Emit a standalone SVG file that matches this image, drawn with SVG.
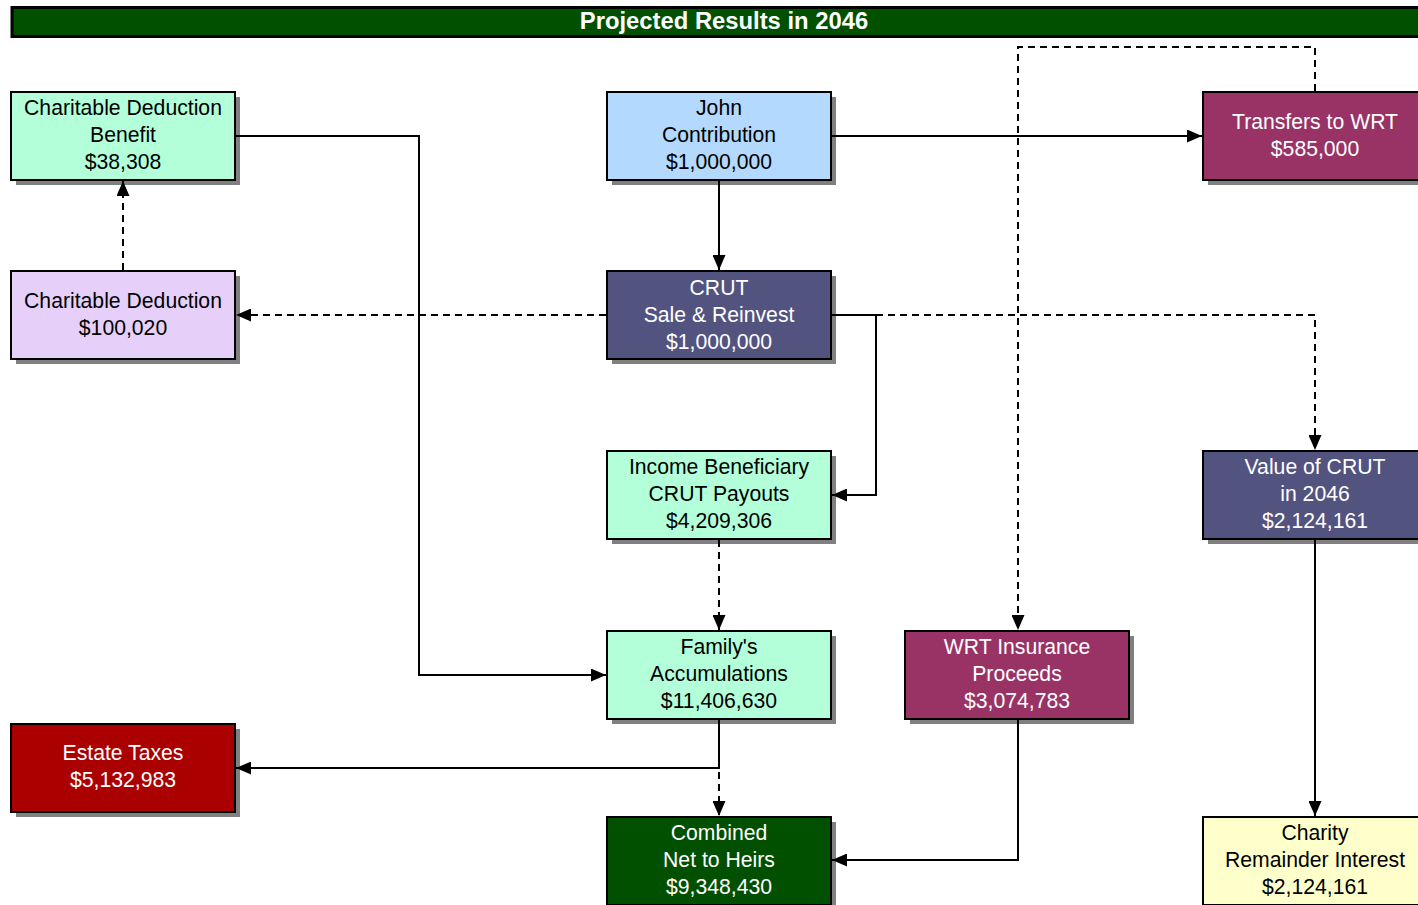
<svg xmlns="http://www.w3.org/2000/svg" width="1418" height="905" viewBox="0 0 1418 905">
<style>
.sh{fill:#808080}
.bx{stroke:#000;stroke-width:2}
.t{font-family:"Liberation Sans",Arial,sans-serif;font-size:21.2px;text-anchor:middle}
.d{fill:#000}
.w{fill:#fff}
.c{fill:none;stroke:#000;stroke-width:2}
.ds{stroke-dasharray:7,5}
</style>
<defs>
<marker id="ah" viewBox="0 0 15 13" refX="15" refY="6.5" markerWidth="15" markerHeight="13" markerUnits="userSpaceOnUse" orient="auto">
<path d="M0,0 L15,6.5 L0,13 z" fill="#000"/>
</marker>
</defs>
<rect x="0" y="0" width="1418" height="905" fill="#fff"/>
<g id="title">
<rect x="12" y="7.5" width="1410" height="29" fill="#005000" stroke="#000" stroke-width="3"/>
<text x="724" y="29" style="font-family:'Liberation Sans',Arial,sans-serif;font-size:23.8px;font-weight:bold;text-anchor:middle" fill="#fff">Projected Results in 2046</text>
</g>
<g id="cdb">
<rect class="sh" x="16" y="97" width="224" height="88"/>
<rect class="bx" x="11" y="92" width="224" height="88" fill="#B3FFD9"/>
<text class="t d" x="123" y="115">Charitable Deduction</text>
<text class="t d" x="123" y="142">Benefit</text>
<text class="t d" x="123" y="169">$38,308</text>
</g>
<g id="john">
<rect class="sh" x="612" y="97" width="224" height="88"/>
<rect class="bx" x="607" y="92" width="224" height="88" fill="#B3D9FF"/>
<text class="t d" x="719" y="115">John</text>
<text class="t d" x="719" y="142">Contribution</text>
<text class="t d" x="719" y="169">$1,000,000</text>
</g>
<g id="wrt">
<rect class="sh" x="1208" y="97" width="224" height="88"/>
<rect class="bx" x="1203" y="92" width="224" height="88" fill="#993366"/>
<text class="t w" x="1315" y="129">Transfers to WRT</text>
<text class="t w" x="1315" y="156">$585,000</text>
</g>
<g id="cd">
<rect class="sh" x="16" y="276" width="224" height="88"/>
<rect class="bx" x="11" y="271" width="224" height="88" fill="#E6D0FA"/>
<text class="t d" x="123" y="308">Charitable Deduction</text>
<text class="t d" x="123" y="335">$100,020</text>
</g>
<g id="crut">
<rect class="sh" x="612" y="276" width="224" height="88"/>
<rect class="bx" x="607" y="271" width="224" height="88" fill="#535380"/>
<text class="t w" x="719" y="295">CRUT</text>
<text class="t w" x="719" y="322">Sale &amp; Reinvest</text>
<text class="t w" x="719" y="349">$1,000,000</text>
</g>
<g id="income">
<rect class="sh" x="612" y="456" width="224" height="88"/>
<rect class="bx" x="607" y="451" width="224" height="88" fill="#B3FFD9"/>
<text class="t d" x="719" y="474">Income Beneficiary</text>
<text class="t d" x="719" y="501">CRUT Payouts</text>
<text class="t d" x="719" y="528">$4,209,306</text>
</g>
<g id="vcrut">
<rect class="sh" x="1208" y="456" width="224" height="88"/>
<rect class="bx" x="1203" y="451" width="224" height="88" fill="#535380"/>
<text class="t w" x="1315" y="474">Value of CRUT</text>
<text class="t w" x="1315" y="501">in 2046</text>
<text class="t w" x="1315" y="528">$2,124,161</text>
</g>
<g id="family">
<rect class="sh" x="612" y="636" width="224" height="88"/>
<rect class="bx" x="607" y="631" width="224" height="88" fill="#B3FFD9"/>
<text class="t d" x="719" y="654">Family's</text>
<text class="t d" x="719" y="681">Accumulations</text>
<text class="t d" x="719" y="708">$11,406,630</text>
</g>
<g id="wrtins">
<rect class="sh" x="910" y="636" width="224" height="88"/>
<rect class="bx" x="905" y="631" width="224" height="88" fill="#993366"/>
<text class="t w" x="1017" y="654">WRT Insurance</text>
<text class="t w" x="1017" y="681">Proceeds</text>
<text class="t w" x="1017" y="708">$3,074,783</text>
</g>
<g id="estate">
<rect class="sh" x="16" y="729" width="224" height="88"/>
<rect class="bx" x="11" y="724" width="224" height="88" fill="#AA0000"/>
<text class="t w" x="123" y="760">Estate Taxes</text>
<text class="t w" x="123" y="787">$5,132,983</text>
</g>
<g id="combined">
<rect class="sh" x="612" y="822" width="224" height="88"/>
<rect class="bx" x="607" y="817" width="224" height="88" fill="#005000"/>
<text class="t w" x="719" y="840">Combined</text>
<text class="t w" x="719" y="867">Net to Heirs</text>
<text class="t w" x="719" y="894">$9,348,430</text>
</g>
<g id="charity">
<rect class="sh" x="1208" y="822" width="224" height="88"/>
<rect class="bx" x="1203" y="817" width="224" height="88" fill="#FFFFCC"/>
<text class="t d" x="1315" y="840">Charity</text>
<text class="t d" x="1315" y="867">Remainder Interest</text>
<text class="t d" x="1315" y="894">$2,124,161</text>
</g>
<g id="connectors">
<path class="c" d="M236,136 H419 V675 H606" marker-end="url(#ah)"/>
<path class="c ds" d="M123,270 V181" marker-end="url(#ah)"/>
<path class="c" d="M832,136 H1202" marker-end="url(#ah)"/>
<path class="c" d="M719,181 V270" marker-end="url(#ah)"/>
<path class="c ds" d="M606,315 H236" marker-end="url(#ah)"/>
<path class="c" d="M832,315 H876 V495 H832" marker-end="url(#ah)"/>
<path class="c ds" d="M876,315 H1315 V450" marker-end="url(#ah)"/>
<path class="c ds" d="M1315,91 V47 H1018 V630" marker-end="url(#ah)"/>
<path class="c ds" d="M719,540 V630" marker-end="url(#ah)"/>
<path class="c" d="M719,720 V768 H236" marker-end="url(#ah)"/>
<path class="c ds" d="M719,772 V816" marker-end="url(#ah)"/>
<path class="c" d="M1018,720 V860 H832" marker-end="url(#ah)"/>
<path class="c" d="M1315,540 V816" marker-end="url(#ah)"/>
</g>
</svg>
